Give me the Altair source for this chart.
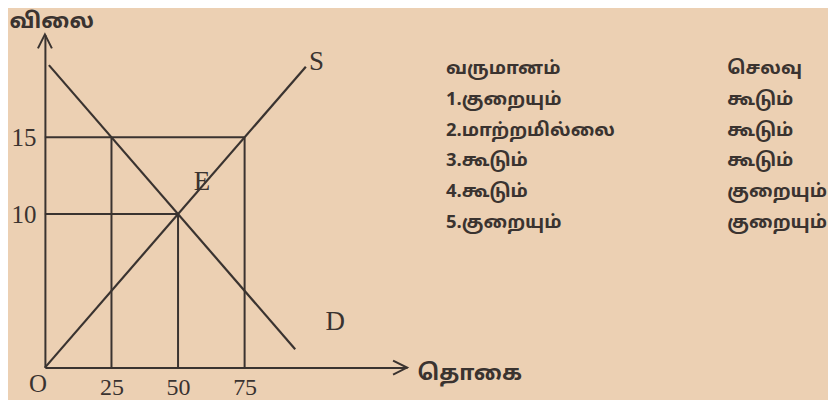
import altair as alt
import pandas as pd

# ---- data ----
qty_ticks = [25, 50, 75]
price_ticks = [10, 15]

supply_q = [0, 98]
supply_p = [0, 19.6]
demand_q = [1.5, 94]
demand_p = [19.7, 1.2]

# guide segments (price level lines and quantity drop lines)
guide_q0 = [0, 0, 25, 50, 75]
guide_q1 = [75, 50, 25, 50, 75]
guide_p0 = [15, 10, 0, 0, 0]
guide_p1 = [15, 10, 15, 10, 15]

curve_labels = ["S", "D", "E"]
label_q = [102, 109, 59]
label_p = [19.9, 3.0, 12.1]

header = ["வருமானம்", "செலவு"]
income = ["1.குறையும்", "2.மாற்றமில்லை", "3.கூடும்", "4.கூடும்", "5.குறையும்"]
expense = ["கூடும்", "கூடும்", "கூடும்", "குறையும்", "குறையும்"]

x_title = "தொகை"
y_title = "விலை"
q_max = 136
p_max = 21.7

# ---- styling ----
ink = "#3a3330"
paper = "#ECD0B3"
serif = "Liberation Serif"
tamil = "Noto Sans Tamil, Lohit Tamil, Noto Sans, sans-serif"
W, H = 363, 334

xscale = alt.Scale(domain=[0, q_max], nice=False, zero=True)
yscale = alt.Scale(domain=[0, p_max], nice=False, zero=True)
xaxis = alt.Axis(values=qty_ticks, title=x_title, ticks=False, grid=False,
                 domainColor=ink, domainWidth=2, labelFont=serif, labelFontSize=24,
                 labelColor=ink, labelPadding=8, labelFlush=False,
                 titleFont=tamil, titleFontSize=22, titleColor=ink, titleFontWeight="bold",
                 titleAngle=0, titleAlign="left", titleBaseline="middle",
                 titleX=W + 10, titleY=5)
yaxis = alt.Axis(values=price_ticks, title=y_title, ticks=False, grid=False,
                 domainColor=ink, domainWidth=2, labelFont=serif, labelFontSize=25,
                 labelColor=ink, labelPadding=9, labelFlush=False,
                 titleFont=tamil, titleFontSize=22, titleColor=ink, titleFontWeight="bold",
                 titleAngle=0, titleAlign="left", titleBaseline="middle",
                 titleX=-36, titleY=-14)


def X(f):
    return alt.X(f"{f}:Q", scale=xscale, axis=xaxis)


def Y(f):
    return alt.Y(f"{f}:Q", scale=yscale, axis=yaxis)


curves = pd.DataFrame({
    "series": ["S"] * len(supply_q) + ["D"] * len(demand_q),
    "q": supply_q + demand_q,
    "p": supply_p + demand_p,
})
guides = pd.DataFrame({"q": guide_q0, "q1": guide_q1, "p": guide_p0, "p1": guide_p1})
labels_df = pd.DataFrame({"t": curve_labels, "q": label_q, "p": label_p})
origin_df = pd.DataFrame({"t": ["O"], "q": [0], "p": [0]})
arrow_x = pd.DataFrame({"q": [q_max], "p": [0]})
arrow_y = pd.DataFrame({"q": [0], "p": [p_max]})

lines = alt.Chart(curves).mark_line(color=ink, strokeWidth=2.2).encode(
    x=X("q"), y=Y("p"), detail="series:N")
rules = alt.Chart(guides).mark_rule(color=ink, strokeWidth=2).encode(
    x=X("q"), x2="q1:Q", y=Y("p"), y2="p1:Q")
text_lbl = alt.Chart(labels_df).mark_text(font=serif, fontSize=27, color=ink).encode(
    x=X("q"), y=Y("p"), text="t:N")
origin = alt.Chart(origin_df).mark_text(font=serif, fontSize=25, color=ink, dx=-7, dy=16).encode(
    x=X("q"), y=Y("p"), text="t:N")
ax_arrow = alt.Chart(arrow_x).mark_point(shape="M-2,-1L0,0L-2,1", filled=False, size=196,
                                         color=ink, strokeWidth=2, opacity=1).encode(x=X("q"), y=Y("p"))
ay_arrow = alt.Chart(arrow_y).mark_point(shape="M-1,2L0,0L1,2", filled=False, size=196,
                                         color=ink, strokeWidth=2, opacity=1).encode(x=X("q"), y=Y("p"))

diagram = alt.layer(rules, lines, text_lbl, origin, ax_arrow, ay_arrow).properties(width=W, height=H)

# ---- table ----
rows = []
rows.append({"col": header[0], "row": 0, "t": header[0]})
rows.append({"col": header[1], "row": 0, "t": header[1]})
for i, (a, b) in enumerate(zip(income, expense), start=1):
    rows.append({"col": header[0], "row": i, "t": a})
    rows.append({"col": header[1], "row": i, "t": b})
table_df = pd.DataFrame(rows)

# rows centred ~34 px below the plot top, ~30.8 px apart
table = alt.Chart(table_df).mark_text(font=tamil, fontSize=18.5, fontWeight="bold", color=ink,
                                      align="left", baseline="middle").encode(
    x=alt.X("col:N", sort=header, scale=alt.Scale(padding=0), axis=None),
    y=alt.Y("row:Q", scale=alt.Scale(domain=[-1.1, 9.74], nice=False, zero=False, reverse=True), axis=None),
    text="t:N",
).properties(width=282, height=H)

chart = alt.hconcat(diagram, table, spacing=39, bounds="flush").properties(
    padding={"left": 1, "top": 1, "right": 0, "bottom": 0},
    background=paper,
).configure_view(stroke=None)

chart.save("out.html", embed_options={"renderer": "svg", "actions": False})
